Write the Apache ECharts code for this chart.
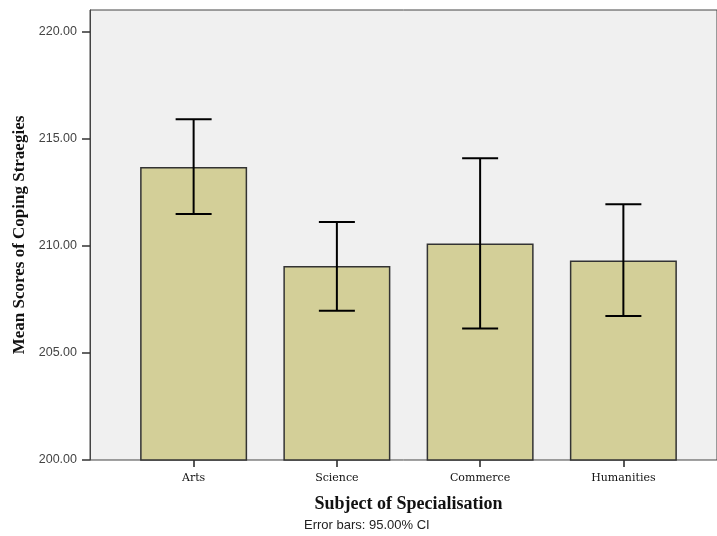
<!DOCTYPE html>
<html><head><meta charset="utf-8">
<script src="https://cdn.jsdelivr.net/npm/echarts@6/dist/echarts.min.js"></script>
<style>html,body{margin:0;padding:0;background:#fff}#c{width:717px;height:536px}</style>
</head><body><div id="c"></div>
<script>
const categories = ['Arts', 'Science', 'Commerce', 'Humanities'];
const means = [213.69, 209.07, 210.12, 209.32];
const ciLow = [211.50, 206.98, 206.15, 206.73];
const ciHigh = [215.93, 211.12, 214.10, 211.95];
const yTicks = [200, 205, 210, 215, 220];
const yMin = 200, yMax = 221.03;

const chart = echarts.init(document.getElementById('c'));
chart.setOption({
  animation: false,
  backgroundColor: '#ffffff',
  grid: [
    {left: 90, top: 10, right: -12, bottom: 76, show: true, backgroundColor: '#f0f0f0', borderColor: '#444', borderWidth: 1},
    {left: 122, top: 10, right: 22, bottom: 76}
  ],
  xAxis: [
    {type: 'category', gridIndex: 0, data: categories, show: false},
    {type: 'category', gridIndex: 1, data: categories,
     axisLine: {show: false},
     axisTick: {show: true, alignWithLabel: true, length: 7, lineStyle: {color: '#222', width: 1.5}},
     axisLabel: {color: '#111', fontFamily: 'DejaVu Serif', fontSize: 11, margin: 13},
     name: 'Subject of Specialisation', nameLocation: 'middle', nameGap: 35,
     nameTextStyle: {fontFamily: 'Liberation Serif', fontWeight: 'bold', fontSize: 18, color: '#111'}}
  ],
  yAxis: [
    {type: 'value', gridIndex: 0, min: yMin, max: yMax,
     axisLine: {show: true, lineStyle: {color: '#444', width: 1}},
     axisTick: {show: true, length: 8, customValues: yTicks, lineStyle: {color: '#333', width: 1.5}},
     axisLabel: {customValues: yTicks, formatter: v => v.toFixed(2), color: '#444', fontFamily: 'Liberation Sans', fontSize: 12.5, margin: 13},
     splitLine: {show: false},
     name: 'Mean Scores of Coping Straegies', nameLocation: 'middle', nameGap: 61, nameRotate: 90,
     nameTextStyle: {fontFamily: 'Liberation Serif', fontWeight: 'bold', fontSize: 17, color: '#111'}},
    {type: 'value', gridIndex: 1, min: yMin, max: yMax, show: false, splitLine: {show: false}}
  ],
  series: [
    {type: 'bar', xAxisIndex: 1, yAxisIndex: 1, data: means, barWidth: 107,
     itemStyle: {color: '#d3cf98', borderColor: '#333', borderWidth: 1.5}},
    {type: 'custom', xAxisIndex: 1, yAxisIndex: 1,
     data: categories.map((c, i) => [i, ciLow[i], ciHigh[i]]),
     renderItem: function (params, api) {
       const lo = api.coord([api.value(0), api.value(1)]);
       const hi = api.coord([api.value(0), api.value(2)]);
       const hw = 18;
       const st = {stroke: '#000', lineWidth: 2};
       return {type: 'group', children: [
         {type: 'line', shape: {x1: hi[0], y1: hi[1], x2: lo[0], y2: lo[1]}, style: st},
         {type: 'line', shape: {x1: hi[0] - hw, y1: hi[1], x2: hi[0] + hw, y2: hi[1]}, style: st},
         {type: 'line', shape: {x1: lo[0] - hw, y1: lo[1], x2: lo[0] + hw, y2: lo[1]}, style: st}
       ]};
     }, z: 5}
  ],
  graphic: [
    {type: 'text', left: 304, top: 519, style: {text: 'Error bars: 95.00% CI', fontFamily: 'Liberation Sans', fontSize: 13, fill: '#222'}}
  ]
});
</script></body></html>
